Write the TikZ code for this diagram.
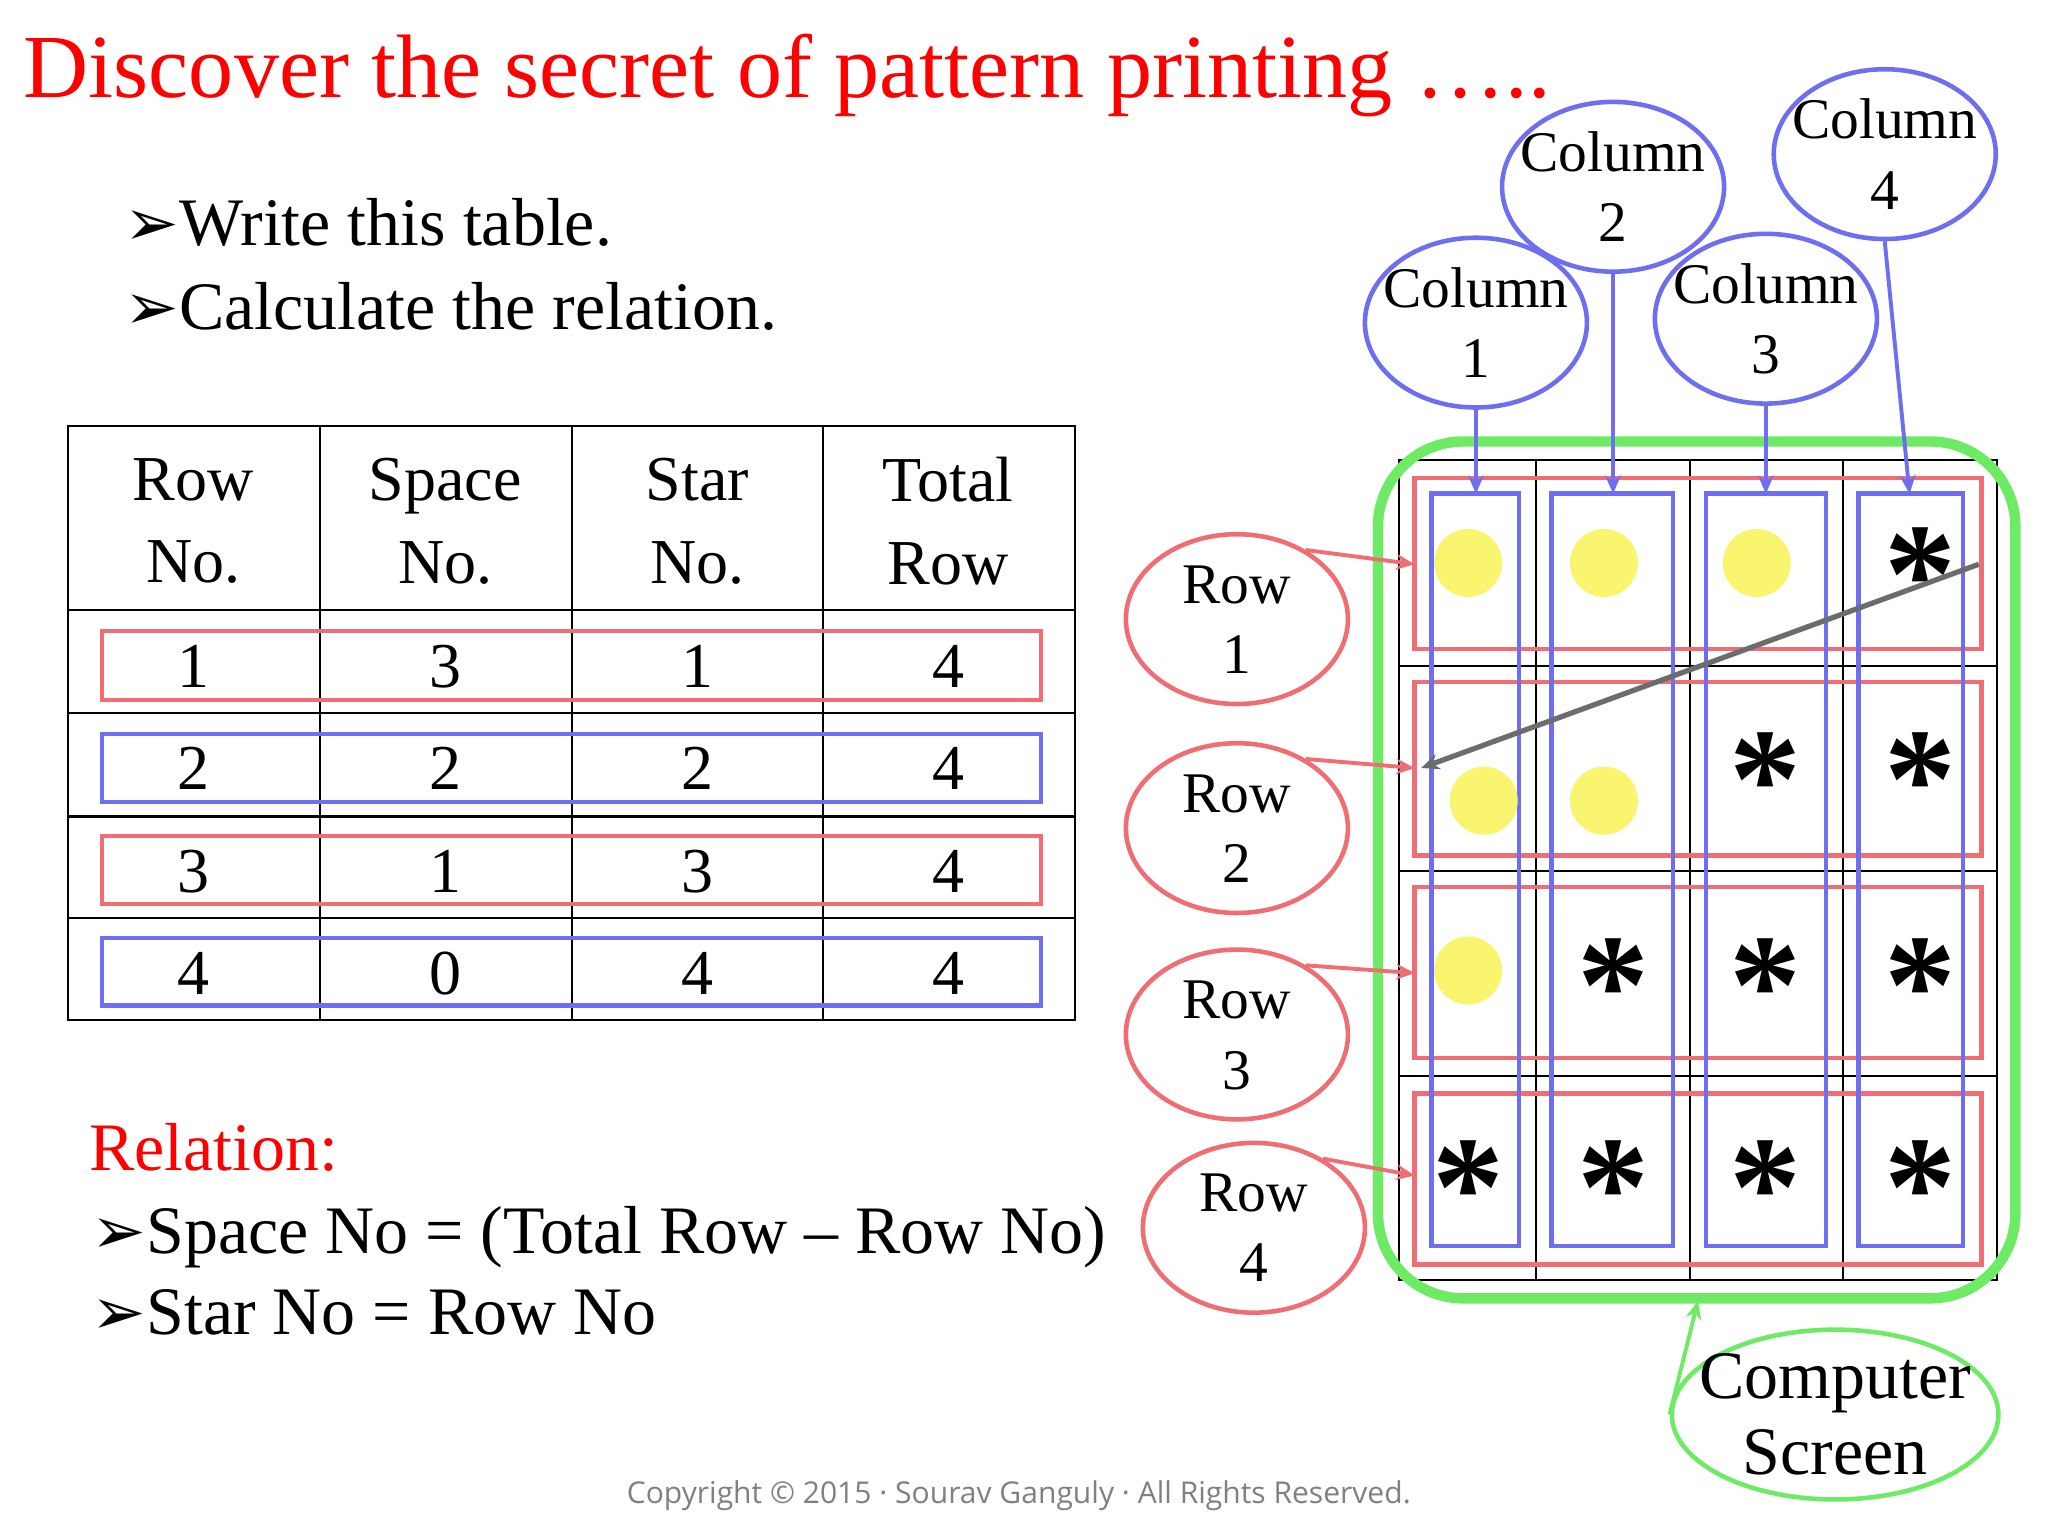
\documentclass[tikz,border=0pt]{standalone}
\usepackage{fontspec}
\setmainfont{Liberation Serif}
\newfontfamily\dv{DejaVu Sans}
\newfontfamily\os{Open Sans}
\usetikzlibrary{arrows.meta,shapes.geometric}
\definecolor{rred}{RGB}{240,110,115}
\definecolor{bblue}{RGB}{110,110,240}
\definecolor{ggreen}{RGB}{110,235,100}
\definecolor{yel}{RGB}{250,245,110}
\newcommand{\bul}{{\dv\fontsize{50}{50}\selectfont ➢}}
\begin{document}
\begin{tikzpicture}[x=1pt,y=-1pt,
 fs/.style={font=\fontsize{#1}{#1}\selectfont},
 cell/.style={fs=49,anchor=center},
 ell/.style={ellipse,draw,line width=3.5pt,minimum width=170pt,minimum height=130pt,align=center,fs=44,inner sep=-16pt},
 rowbox/.style={draw=rred,line width=3.5pt},
 colbox/.style={draw=bblue,line width=3.5pt},
 star/.style={fs=110,font=\bfseries\fontsize{110}{110}\selectfont,inner sep=0pt},
 dot/.style={circle,fill=yel,minimum size=52pt,inner sep=0pt},
 arr/.style={line width=3pt,-{Stealth[length=14pt,width=12pt]}}]
\useasboundingbox (0,0) rectangle (1568,1176);
\fill[white] (0,0) rectangle (1568,1176);
\node[anchor=base west,text=red,fs=69,inner sep=0] (title) at (18,75) {Discover the secret of pattern printing …..};
\node[anchor=base west,fs=52,inner sep=0] (b1) at (95,188) {\bul Write this table.};
\node[anchor=base west,fs=52,inner sep=0] (b2) at (95,252) {\bul Calculate the relation.};
% table
\draw[line width=1.8pt] (52,326) rectangle (823,781);
\foreach \y in {467,546,625,703} \draw[line width=1.8pt] (52,\y) -- (823,\y);
\foreach \x in {245,438,630} \draw[line width=1.8pt] (\x,326) -- (\x,781);
\draw[rowbox] (78,483) rectangle (797,536);
\draw[colbox] (78,562) rectangle (797,614);
\draw[rowbox] (78,640) rectangle (797,692);
\draw[colbox] (78,718) rectangle (797,770);
\node[cell,align=center] (h1) at (148,399) {Row\\[14pt]No.};
\node[cell,align=center] (h2) at (341,399) {Space\\[14pt]No.};
\node[cell,align=center] (h3) at (534,399) {Star\\[14pt]No.};
\node[cell,align=center] (h4) at (726,399) {Total\\[14pt]Row};
\foreach \a/\b/\c/\d [count=\i] in {1/3/1/4,2/2/2/4,3/1/3/4,4/0/4/4}{
 \pgfmathsetmacro\yy{510+78.5*(\i-1)}
 \node[cell] (r\i a) at (148,\yy) {\a};
 \node[cell] (r\i b) at (341,\yy) {\b};
 \node[cell] (r\i c) at (534,\yy) {\c};
 \node[cell] (r\i d) at (726,\yy) {\d};}
% relation
\node[anchor=base west,text=red,fs=52,inner sep=0] (rel) at (68,896) {Relation:};
\node[anchor=base west,fs=52,inner sep=0] (rel1) at (70,960) {\bul Space No = (Total Row – Row No)};
\node[anchor=base west,fs=52,inner sep=0] (rel2) at (70,1022) {\bul Star No = Row No};
% grid
\draw[line width=1.8pt] (1071,352) rectangle (1529,980);
\foreach \x in {1176,1294,1411} \draw[line width=1.8pt] (\x,352) -- (\x,980);
\foreach \y in {510,667,824} \draw[line width=1.8pt] (1071,\y) -- (1529,\y);
\foreach \y/\z in {366/497,522/655,679/810,837/968} \draw[rowbox] (1083,\y) rectangle (1517,\z);
\foreach \x/\z in {1096/1163,1188/1281,1306/1398,1423/1503} \draw[colbox] (\x,378) rectangle (\z,954);
\node[dot] (d1) at (1124,431) {}; \node[dot] (d2) at (1228,431) {}; \node[dot] (d3) at (1345,431) {};
\node[dot] (d4) at (1136,613) {}; \node[dot] (d5) at (1228,613) {}; \node[dot] (d6) at (1124,743) {};
\foreach \x/\y [count=\i] in {1470/440,1352/597,1470/597,1235/755,1352/755,1470/755,1124/910,1235/910,1352/910,1470/910}
 \node[star] (s\i) at (\x,\y) {*};
\draw[ggreen,line width=8pt,rounded corners=65pt] (1055,338) rectangle (1543,994);
\coordinate (ga) at (1515,432); \coordinate (gb) at (1088,588);
\draw[arr,draw=gray!85!black,line width=4pt] (ga) -- (gb);
% column ellipses
\node[ell,draw=bblue] (c1) at (1130,247) {Column\\[10pt]1};
\node[ell,draw=bblue] (c2) at (1235,143) {Column\\[10pt]2};
\node[ell,draw=bblue] (c3) at (1352,244) {Column\\[10pt]3};
\node[ell,draw=bblue] (c4) at (1443,118) {Column\\[10pt]4};
\coordinate (t1) at (1130,378); \coordinate (t2) at (1235,378); \coordinate (t3) at (1352,378); \coordinate (t4) at (1462,378);
\draw[arr,bblue] (c1.south) -- (t1);
\draw[arr,bblue] (c2.south) -- (t2);
\draw[arr,bblue] (c3.south) -- (t3);
\draw[arr,bblue] (c4.south) -- (t4);
% row ellipses
\node[ell,draw=rred] (e1) at (947,474) {\rule{0pt}{30pt}Row\\[10pt]1};
\node[ell,draw=rred] (e2) at (947,634) {\rule{0pt}{30pt}Row\\[10pt]2};
\node[ell,draw=rred] (e3) at (947,792) {\rule{0pt}{30pt}Row\\[10pt]3};
\node[ell,draw=rred] (e4) at (960,940) {Row\\[10pt]4};
\coordinate (q1) at (1083,432); \coordinate (q2) at (1083,588); \coordinate (q3) at (1083,745); \coordinate (q4) at (1083,900);
\draw[arr,rred] (e1.45) -- (q1);
\draw[arr,rred] (e2.45) -- (q2);
\draw[arr,rred] (e3.45) -- (q3);
\draw[arr,rred] (e4.45) -- (q4);
% computer screen
\node[ell,draw=ggreen,minimum width=250pt,minimum height=130pt,fs=52,inner sep=-18pt] (cs) at (1405,1083) {Computer\\[6pt]Screen};
\coordinate (gs) at (1300,996);
\draw[arr,ggreen] (cs.west) -- (gs);
\node[text=gray,font=\os\fontsize{23}{23}\selectfont] (copy) at (780,1145) {Copyright © 2015 · Sourav Ganguly · All Rights Reserved.};
\end{tikzpicture}
\end{document}
